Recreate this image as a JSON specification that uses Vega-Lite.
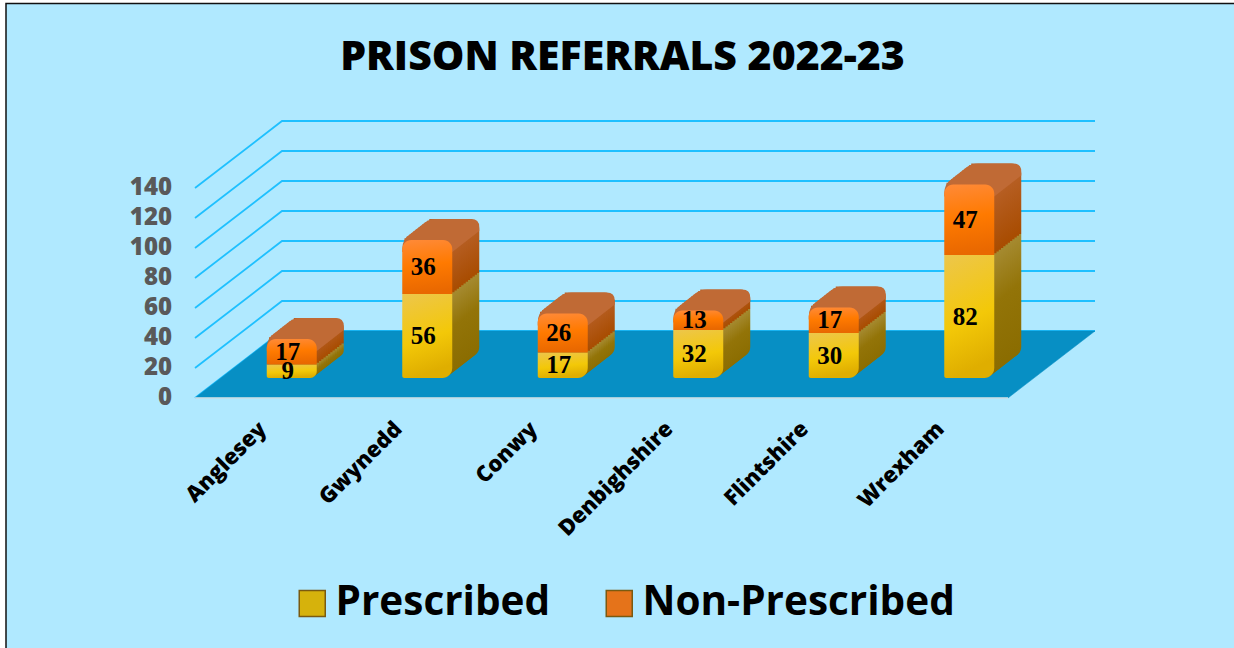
{"$schema":"https://vega.github.io/schema/vega-lite/v6.json","width":813,"height":210,"autosize":{"type":"none"},"padding":{"left":195,"top":188,"right":226,"bottom":250},"background":"#ffffff",
"title":{"text":"PRISON REFERRALS 2022-23","font":"Open Sans","fontSize":41,"fontWeight":800,"color":"#000000","anchor":"middle","frame":"group","offset":-78,"dx":21},
"config":{"view":{"stroke":null}},
"data":{"values":[
{"county":"Anglesey","series":"Prescribed","value":9},{"county":"Anglesey","series":"Non-Prescribed","value":17},
{"county":"Gwynedd","series":"Prescribed","value":56},{"county":"Gwynedd","series":"Non-Prescribed","value":36},
{"county":"Conwy","series":"Prescribed","value":17},{"county":"Conwy","series":"Non-Prescribed","value":26},
{"county":"Denbighshire","series":"Prescribed","value":32},{"county":"Denbighshire","series":"Non-Prescribed","value":13},
{"county":"Flintshire","series":"Prescribed","value":30},{"county":"Flintshire","series":"Non-Prescribed","value":17},
{"county":"Wrexham","series":"Prescribed","value":82},{"county":"Wrexham","series":"Non-Prescribed","value":47}]},
"layer":[
{"data":{"values":[{"panel":"background"}]},"mark":{"type":"point","shape":"M-595.5 -289.5L640 -289.5L640 360L-595.5 360Z","size":4,"filled":true,"fill":"#b0e9ff","stroke":"#111111","strokeWidth":1.5,"opacity":1},"encoding":{}},
{"data":{"values":[{"tick":0},{"tick":20},{"tick":40},{"tick":60},{"tick":80},{"tick":100},{"tick":120},{"tick":140}]},"layer":[
{"mark":{"type":"point","shape":"M-406.5 0L-319.5 -67L493.5 -67","size":4,"filled":false,"stroke":"#1fc0ff","strokeWidth":1.8,"opacity":1},"encoding":{"y":{"field":"tick","type":"quantitative","scale":{"domain":[0,140]},"axis":null}}},
{"mark":{"type":"text","font":"Open Sans","fontWeight":800,"fontSize":24,"color":"#595959","align":"right","baseline":"middle","xOffset":-429.5},"encoding":{"y":{"field":"tick","type":"quantitative","axis":null},"text":{"field":"tick","type":"quantitative"}}}]},
{"data":{"values":[{"floor":0}]},"layer":[
{"mark":{"type":"point","shape":"M-406.5 0L406.5 0L493.5 -67L-319.5 -67Z","size":4,"filled":true,"fill":"#078fc4","stroke":"#078fc4","strokeWidth":0.5,"opacity":1},"encoding":{"y":{"field":"floor","type":"quantitative","axis":null}}},
{"mark":{"type":"rule","color":"#d8e4e8","strokeWidth":1.5},"encoding":{"y":{"field":"floor","type":"quantitative","axis":null}}}]},
{"transform":[{"stack":"value","groupby":["county"],"sort":[{"field":"series","order":"descending"}],"as":["y0","y1"]}],
"encoding":{"x":{"field":"county","type":"nominal","sort":["Anglesey","Gwynedd","Conwy","Denbighshire","Flintshire","Wrexham"],"scale":{"paddingInner":0.631,"paddingOuter":0.3155},"title":null,"axis":{"zindex":1,"domain":false,"ticks":false,"labelAngle":-45,"labelAlign":"right","labelBaseline":"middle","labelFont":"Open Sans","labelFontWeight":800,"labelFontSize":22,"labelColor":"#000000","labelPadding":27,"labelOverlap":false}},
"y":{"field":"y1","type":"quantitative","scale":{"domain":[0,140]},"axis":null},
"y2":{"field":"y0"}},
"layer":[
{"transform":[{"filter":"datum.series === 'Prescribed'"}],"layer":[
{"mark":{"type":"bar","cornerRadiusBottomRight":10,"fill":{"gradient":"linear","x1":0,"y1":0,"x2":0,"y2":1,"stops":[{"offset":0,"color":"#a58a30"},{"offset":0.4,"color":"#937408"},{"offset":1,"color":"#8a6c00"}]},"xOffset":56,"x2Offset":56,"yOffset":-41,"y2Offset":-41}},
{"mark":{"type":"bar","cornerRadiusBottomRight":10,"fill":{"gradient":"linear","x1":0,"y1":0,"x2":0,"y2":1,"stops":[{"offset":0,"color":"#a58a30"},{"offset":0.4,"color":"#937408"},{"offset":1,"color":"#8a6c00"}]},"xOffset":53.75,"x2Offset":53.75,"yOffset":-39.25,"y2Offset":-39.25}},
{"mark":{"type":"bar","cornerRadiusBottomRight":10,"fill":{"gradient":"linear","x1":0,"y1":0,"x2":0,"y2":1,"stops":[{"offset":0,"color":"#a58a30"},{"offset":0.4,"color":"#937408"},{"offset":1,"color":"#8a6c00"}]},"xOffset":51.5,"x2Offset":51.5,"yOffset":-37.5,"y2Offset":-37.5}},
{"mark":{"type":"bar","cornerRadiusBottomRight":10,"fill":{"gradient":"linear","x1":0,"y1":0,"x2":0,"y2":1,"stops":[{"offset":0,"color":"#a58a30"},{"offset":0.4,"color":"#937408"},{"offset":1,"color":"#8a6c00"}]},"xOffset":49.25,"x2Offset":49.25,"yOffset":-35.75,"y2Offset":-35.75}},
{"mark":{"type":"bar","cornerRadiusBottomRight":10,"fill":{"gradient":"linear","x1":0,"y1":0,"x2":0,"y2":1,"stops":[{"offset":0,"color":"#a58a30"},{"offset":0.4,"color":"#937408"},{"offset":1,"color":"#8a6c00"}]},"xOffset":47,"x2Offset":47,"yOffset":-34,"y2Offset":-34}},
{"mark":{"type":"bar","cornerRadiusBottomRight":10,"fill":{"gradient":"linear","x1":0,"y1":0,"x2":0,"y2":1,"stops":[{"offset":0,"color":"#a58a30"},{"offset":0.4,"color":"#937408"},{"offset":1,"color":"#8a6c00"}]},"xOffset":44.75,"x2Offset":44.75,"yOffset":-32.25,"y2Offset":-32.25}},
{"mark":{"type":"bar","cornerRadiusBottomRight":10,"fill":{"gradient":"linear","x1":0,"y1":0,"x2":0,"y2":1,"stops":[{"offset":0,"color":"#a58a30"},{"offset":0.4,"color":"#937408"},{"offset":1,"color":"#8a6c00"}]},"xOffset":42.5,"x2Offset":42.5,"yOffset":-30.5,"y2Offset":-30.5}},
{"mark":{"type":"bar","cornerRadiusBottomRight":10,"fill":{"gradient":"linear","x1":0,"y1":0,"x2":0,"y2":1,"stops":[{"offset":0,"color":"#a58a30"},{"offset":0.4,"color":"#937408"},{"offset":1,"color":"#8a6c00"}]},"xOffset":40.25,"x2Offset":40.25,"yOffset":-28.75,"y2Offset":-28.75}},
{"mark":{"type":"bar","cornerRadiusBottomRight":10,"fill":{"gradient":"linear","x1":0,"y1":0,"x2":0,"y2":1,"stops":[{"offset":0,"color":"#a58a30"},{"offset":0.4,"color":"#937408"},{"offset":1,"color":"#8a6c00"}]},"xOffset":38,"x2Offset":38,"yOffset":-27,"y2Offset":-27}},
{"mark":{"type":"bar","cornerRadiusBottomRight":10,"fill":{"gradient":"linear","x1":0,"y1":0,"x2":0,"y2":1,"stops":[{"offset":0,"color":"#a58a30"},{"offset":0.4,"color":"#937408"},{"offset":1,"color":"#8a6c00"}]},"xOffset":35.75,"x2Offset":35.75,"yOffset":-25.25,"y2Offset":-25.25}},
{"mark":{"type":"bar","cornerRadiusBottomRight":10,"fill":{"gradient":"linear","x1":0,"y1":0,"x2":0,"y2":1,"stops":[{"offset":0,"color":"#a58a30"},{"offset":0.4,"color":"#937408"},{"offset":1,"color":"#8a6c00"}]},"xOffset":33.5,"x2Offset":33.5,"yOffset":-23.5,"y2Offset":-23.5}},
{"mark":{"type":"bar","cornerRadiusBottomRight":10,"fill":{"gradient":"linear","x1":0,"y1":0,"x2":0,"y2":1,"stops":[{"offset":0,"color":"#a58a30"},{"offset":0.4,"color":"#937408"},{"offset":1,"color":"#8a6c00"}]},"xOffset":31.25,"x2Offset":31.25,"yOffset":-21.75,"y2Offset":-21.75}}]},
{"transform":[{"filter":"datum.series === 'Non-Prescribed'"}],"layer":[
{"mark":{"type":"bar","cornerRadiusTopRight":10,"fill":{"gradient":"linear","x1":0,"y1":0,"x2":0,"y2":1,"stops":[{"offset":0,"color":"#b9622a"},{"offset":1,"color":"#a84c00"}]},"xOffset":56,"x2Offset":56,"yOffset":-41,"y2Offset":-41}},
{"mark":{"type":"bar","cornerRadiusTopRight":10,"fill":{"gradient":"linear","x1":0,"y1":0,"x2":0,"y2":1,"stops":[{"offset":0,"color":"#b9622a"},{"offset":1,"color":"#a84c00"}]},"xOffset":53.75,"x2Offset":53.75,"yOffset":-39.25,"y2Offset":-39.25}},
{"mark":{"type":"bar","cornerRadiusTopRight":10,"fill":{"gradient":"linear","x1":0,"y1":0,"x2":0,"y2":1,"stops":[{"offset":0,"color":"#b9622a"},{"offset":1,"color":"#a84c00"}]},"xOffset":51.5,"x2Offset":51.5,"yOffset":-37.5,"y2Offset":-37.5}},
{"mark":{"type":"bar","cornerRadiusTopRight":10,"fill":{"gradient":"linear","x1":0,"y1":0,"x2":0,"y2":1,"stops":[{"offset":0,"color":"#b9622a"},{"offset":1,"color":"#a84c00"}]},"xOffset":49.25,"x2Offset":49.25,"yOffset":-35.75,"y2Offset":-35.75}},
{"mark":{"type":"bar","cornerRadiusTopRight":10,"fill":{"gradient":"linear","x1":0,"y1":0,"x2":0,"y2":1,"stops":[{"offset":0,"color":"#b9622a"},{"offset":1,"color":"#a84c00"}]},"xOffset":47,"x2Offset":47,"yOffset":-34,"y2Offset":-34}},
{"mark":{"type":"bar","cornerRadiusTopRight":10,"fill":{"gradient":"linear","x1":0,"y1":0,"x2":0,"y2":1,"stops":[{"offset":0,"color":"#b9622a"},{"offset":1,"color":"#a84c00"}]},"xOffset":44.75,"x2Offset":44.75,"yOffset":-32.25,"y2Offset":-32.25}},
{"mark":{"type":"bar","cornerRadiusTopRight":10,"fill":{"gradient":"linear","x1":0,"y1":0,"x2":0,"y2":1,"stops":[{"offset":0,"color":"#b9622a"},{"offset":1,"color":"#a84c00"}]},"xOffset":42.5,"x2Offset":42.5,"yOffset":-30.5,"y2Offset":-30.5}},
{"mark":{"type":"bar","cornerRadiusTopRight":10,"fill":{"gradient":"linear","x1":0,"y1":0,"x2":0,"y2":1,"stops":[{"offset":0,"color":"#b9622a"},{"offset":1,"color":"#a84c00"}]},"xOffset":40.25,"x2Offset":40.25,"yOffset":-28.75,"y2Offset":-28.75}},
{"mark":{"type":"bar","cornerRadiusTopRight":10,"fill":{"gradient":"linear","x1":0,"y1":0,"x2":0,"y2":1,"stops":[{"offset":0,"color":"#b9622a"},{"offset":1,"color":"#a84c00"}]},"xOffset":38,"x2Offset":38,"yOffset":-27,"y2Offset":-27}},
{"mark":{"type":"bar","cornerRadiusTopRight":10,"fill":{"gradient":"linear","x1":0,"y1":0,"x2":0,"y2":1,"stops":[{"offset":0,"color":"#b9622a"},{"offset":1,"color":"#a84c00"}]},"xOffset":35.75,"x2Offset":35.75,"yOffset":-25.25,"y2Offset":-25.25}},
{"mark":{"type":"bar","cornerRadiusTopRight":10,"fill":{"gradient":"linear","x1":0,"y1":0,"x2":0,"y2":1,"stops":[{"offset":0,"color":"#b9622a"},{"offset":1,"color":"#a84c00"}]},"xOffset":33.5,"x2Offset":33.5,"yOffset":-23.5,"y2Offset":-23.5}},
{"mark":{"type":"bar","cornerRadiusTopRight":10,"fill":{"gradient":"linear","x1":0,"y1":0,"x2":0,"y2":1,"stops":[{"offset":0,"color":"#b9622a"},{"offset":1,"color":"#a84c00"}]},"xOffset":31.25,"x2Offset":31.25,"yOffset":-21.75,"y2Offset":-21.75}},
{"mark":{"type":"point","shape":"M-25 9Q-25 -1 -17 -6L-3 -17Q2 -21 9 -21L44 -21Q52 -21 52 -13L52 -9L25 12L-25 12Z","size":4,"filled":true,"fill":"#c06a35","stroke":null,"opacity":1,"xOffset":29,"yOffset":-20},"encoding":{"y2":null}}]},
{"mark":{"type":"bar","xOffset":29,"x2Offset":29,"yOffset":-20,"y2Offset":-20,"opacity":0},
"encoding":{"color":{"field":"series","type":"nominal","title":null,
"scale":{"domain":["Prescribed","Non-Prescribed"],"range":["#d6b20c","#e5731a"]},
"legend":{"orient":"none","legendX":97,"legendY":395,"direction":"horizontal","columns":2,"symbolType":"square","symbolSize":676,"symbolOpacity":1,"symbolStrokeWidth":1.5,"symbolStrokeColor":"#7a5a10","labelFont":"Open Sans","labelFontWeight":700,"labelFontSize":40.5,"labelColor":"#000000","labelLimit":500,"columnPadding":48,"labelOffset":3}}}},
{"transform":[{"filter":"datum.series === 'Prescribed'"}],"mark":{"type":"bar","xOffset":29,"x2Offset":29,"yOffset":-20,"y2Offset":-20,"cornerRadiusBottomRight":10,"cornerRadiusBottomLeft":2,"fill":{"gradient":"linear","x1":0,"y1":0,"x2":0.2,"y2":1,"stops":[{"offset":0,"color":"#edc64c"},{"offset":0.6,"color":"#f3c808"},{"offset":1,"color":"#dfae00"}]}}},
{"transform":[{"filter":"datum.series === 'Non-Prescribed'"}],"mark":{"type":"bar","xOffset":29,"x2Offset":29,"yOffset":-20,"y2Offset":-20,"cornerRadiusTopLeft":9,"cornerRadiusTopRight":9,"fill":{"gradient":"linear","x1":0,"y1":0,"x2":0.1,"y2":1,"stops":[{"offset":0,"color":"#ff8a38"},{"offset":0.5,"color":"#ff7a00"},{"offset":1,"color":"#e96800"}]}}}
]},
{"mark":{"type":"text","font":"Liberation Serif","fontWeight":"bold","fontSize":25,"color":"#000000","baseline":"middle","xOffset":25,"yOffset":-20},
"encoding":{"x":{"field":"county","type":"nominal","sort":["Anglesey","Gwynedd","Conwy","Denbighshire","Flintshire","Wrexham"]},
"y":{"field":"value","type":"quantitative","stack":"zero","bandPosition":0.5,"axis":null},
"order":{"field":"series","sort":"descending"},"detail":{"field":"series"},"text":{"field":"value","type":"quantitative"}}}
]}
